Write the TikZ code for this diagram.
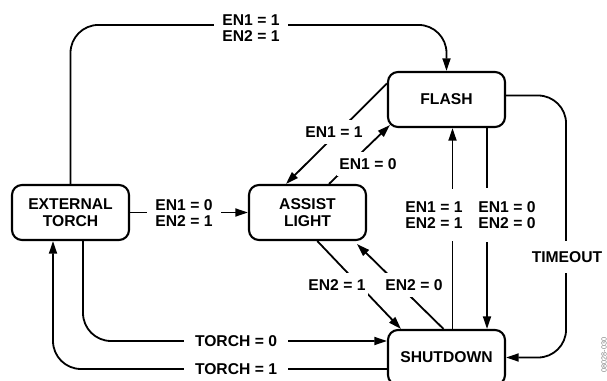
\documentclass[tikz,border=0pt]{standalone}
\usepackage{fontspec}
\setmainfont{Liberation Sans}
\usetikzlibrary{arrows.meta,positioning,calc}

\begin{document}
\begin{tikzpicture}[x=.75pt,y=-.75pt,font=\bfseries\fontsize{11.75}{11.5}\selectfont,
  trans/.style={-{Triangle[length=9.5pt,width=6pt]},line width=1.35pt},
  state/.style={draw,line width=1.6pt,rounded corners=7.5pt,minimum width=87.75pt,minimum height=41.25pt,inner sep=0pt,align=center,font=\bfseries\fontsize{11.75}{12.75}\selectfont},
  cond/.style={fill=white,inner xsep=6pt,inner ysep=5pt,align=center}]
\useasboundingbox (0,0) rectangle (607,381);
\node[state] (ext) at (70.5,212.5) {EXTERNAL\\TORCH};
\node[state] (assist) at (307.5,212.5) {ASSIST\\LIGHT};
\node[state] (flash) at (446.5,99.5) {FLASH};
\node[state] (shut) at (446.5,357.5) {SHUTDOWN};
\draw[trans,rounded corners=21pt] (ext.north) |- ($(flash.north)+(0,-46)$) -- (flash.north);
\draw[trans] (ext.east) -- (assist.west);
\draw[trans] (flash.165) -- (assist.127);
\draw[trans] (assist.53) -- ($(flash.south west)+(3,-3)$);
\draw[trans] (assist.-71) -- ($(shut.north west)+(14,0)$);
\draw[trans] ($(shut.north)+(-3,0)$) -- ($(assist.south east)+(-10,3)$);
\draw[trans] ($(shut.north)+(6,0)$) -- ($(flash.south)+(6,0)$);
\draw[trans] ($(flash.south)+(40.5,0)$) -- ($(shut.north)+(40.5,0)$);
\draw[trans,rounded corners=21pt] ($(flash.east)+(0,-4)$) -| ($(shut.east)+(60,0)$) -- (shut.east);
\draw[trans,rounded corners=21pt] ($(ext.south)+(12.5,0)$) |- ($(shut.west)+(0,-16.5)$);
\draw[trans,rounded corners=21pt] ($(shut.west)+(0,11.5)$) -| ($(ext.south)+(-17.5,0)$);
\node[cond] (top) at (251,28) {EN1 = 1\\EN2 = 1};
\node[cond] (toassist) at (184,213) {EN1 = 0\\EN2 = 1};
\node[cond,inner xsep=2pt] (fa) at (334,132) {EN1 = 1};
\node[cond,inner xsep=2pt] (af) at (368,164) {EN1 = 0};
\node[cond,inner xsep=2pt] (as) at (337,285) {EN2 = 1};
\node[cond,inner xsep=2pt] (sa) at (414,285) {EN2 = 0};
\node[cond,inner ysep=10pt] (sf) at (434,215) {EN1 = 1\\EN2 = 1};
\node[cond,inner ysep=10pt] (fs) at (507,215) {EN1 = 0\\EN2 = 0};
\node[cond,inner ysep=8pt] (timeout) at (567,257) {TIMEOUT};
\node[cond,inner xsep=8pt] (torch0) at (236,341) {TORCH = 0};
\node[cond,inner xsep=8pt] (torch1) at (236,369) {TORCH = 1};
\node[rotate=90,text=gray,font=\fontsize{5.5}{5.5}\selectfont] (figid) at (604,355) {08028-030};
\end{tikzpicture}
\end{document}
